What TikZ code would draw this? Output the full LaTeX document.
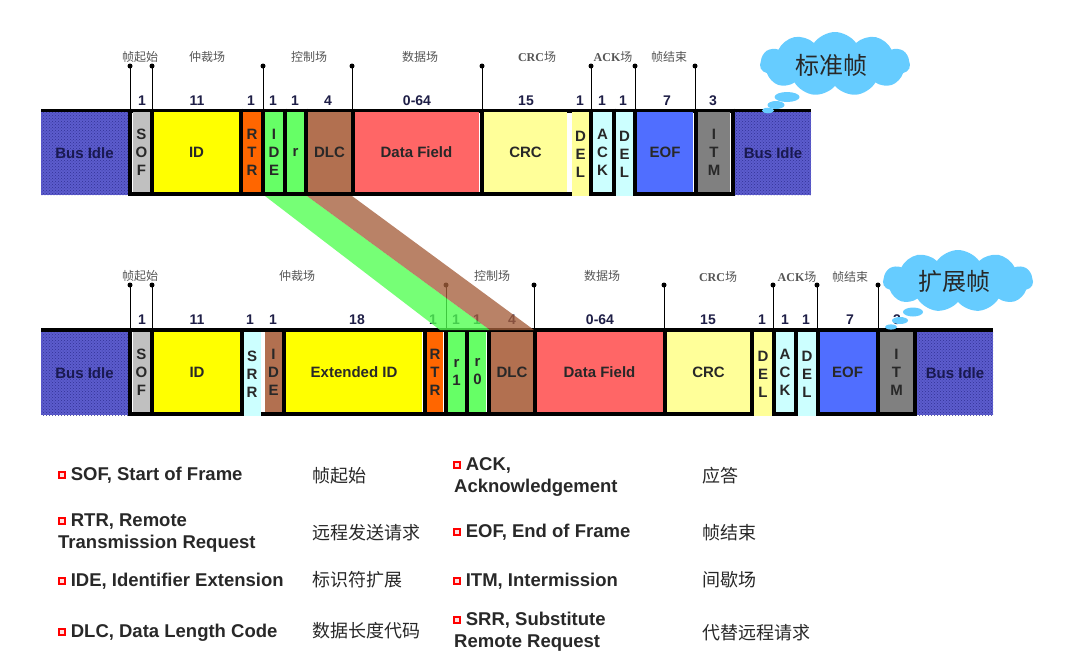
\documentclass[tikz,border=0pt]{standalone}
\usepackage{fontspec}
\setmainfont{Liberation Sans}
\newfontfamily\cjk{Noto Sans CJK SC}
\newfontfamily\serifb{Liberation Serif}
\usetikzlibrary{shapes.symbols,patterns}
\definecolor{idlec}{RGB}{92,92,205}
\definecolor{idledot}{RGB}{50,50,150}
\definecolor{sofc}{RGB}{192,192,192}
\definecolor{idc}{RGB}{255,255,0}
\definecolor{rtrc}{RGB}{255,102,0}
\definecolor{grnc}{RGB}{102,255,102}
\definecolor{dlcc}{RGB}{178,112,80}
\definecolor{bandg}{RGB}{80,255,80}
\definecolor{bandb}{RGB}{165,95,60}
\definecolor{datac}{RGB}{255,102,102}
\definecolor{crcc}{RGB}{255,255,153}
\definecolor{cyanc}{RGB}{204,255,255}
\definecolor{eofc}{RGB}{80,110,255}
\definecolor{itmc}{RGB}{128,128,128}
\definecolor{cloudc}{RGB}{102,204,255}
\definecolor{numc}{RGB}{30,30,70}
\definecolor{txtc}{RGB}{40,40,40}
\definecolor{lblc}{RGB}{85,85,85}
\definecolor{idletxt}{RGB}{25,25,80}
\definecolor{bulfill}{RGB}{255,225,225}
\setlength\fboxsep{0pt}
\setlength\fboxrule{1.5pt}
\newcommand\bul{\raisebox{2.6pt}{\fcolorbox{red}{bulfill}{\rule{0pt}{4.5pt}\rule{4.5pt}{0pt}}}}
% name, x1, x2, ytop, ybot, colour, text
\newcommand\cfield[7]{\node[fld, fill=#6, minimum width={#3-#2}, minimum height={#5-#4}] (#1) at ({(#2+#3)/2},{(#4+#5)/2}) {#7};}
\begin{document}
\begin{tikzpicture}[x=1pt,y=-1pt,
  fld/.style={rectangle, inner sep=0pt, font=\bfseries\fontsize{15}{18}\selectfont, text=txtc, align=center},
  idle/.style={fill=idlec, postaction={pattern=crosshatch dots, pattern color=idledot}, text=idletxt},
  sepline/.style={line width=4pt, black},
  tickline/.style={line width=1pt, black},
  tdot/.style={circle, fill=black, inner sep=0pt, minimum size=5pt},
  num/.style={font=\bfseries\fontsize{14}{14}\selectfont, text=numc, inner sep=0pt},
  flab/.style={font=\cjk\fontsize{12}{12}\selectfont, text=lblc, inner sep=0pt},
  leg/.style={font=\bfseries\fontsize{18.5}{22}\selectfont, text=txtc, anchor=base west, inner sep=0pt},
  legcn/.style={font=\cjk\fontsize{18}{18}\selectfont, text=txtc, anchor=base west, inner sep=0pt},
  cloudshape/.style={cloud, cloud puffs=11, cloud puff arc=110, aspect=2.3, fill=cloudc, draw=none, inner sep=0pt},
  cloudtxt/.style={font=\cjk\fontsize{24}{24}\selectfont, text=txtc, inner sep=0pt},
  band/.style={opacity=0.78}
]
\useasboundingbox (0,0) rectangle (1065,654);

% ================= TOP FRAME (standard) =================
\draw[sepline] (41,110.5) -- (811,110.5);
\draw[sepline] (128,194) -- (735,194);
\node[fld, idle, minimum width=87pt, minimum height=83pt] (tidleL) at (84.5,153.5) {Bus Idle};
\cfield{tsof}{133}{150}{112}{192}{sofc}{S\\O\\F}
\cfield{tid}{154}{239}{112}{192}{idc}{ID}
\cfield{trtr}{243}{261}{112}{192}{rtrc}{R\\T\\R}
\cfield{tide}{265}{283}{112}{192}{grnc}{I\\D\\E}
\cfield{tr}{287}{304}{112}{192}{grnc}{r}
\cfield{tdlc}{308}{351}{112}{192}{dlcc}{DLC}
\cfield{tdata}{354}{479}{112}{192}{datac}{Data Field}
\cfield{tcrc}{484}{567}{112}{192}{crcc}{CRC}
\cfield{tdel}{572}{589}{112}{196}{crcc}{D\\E\\L}
\cfield{tack}{593}{612}{112}{192}{cyanc}{A\\C\\K}
\cfield{tdelb}{616}{633}{112}{196}{cyanc}{D\\E\\L}
\cfield{teof}{637}{693}{112}{192}{eofc}{EOF}
\cfield{titm}{698}{730}{112}{192}{itmc}{I\\T\\M}
\node[fld, idle, minimum width=76pt, minimum height=83pt] (tidleR) at (773,153.5) {Bus Idle};
\foreach \x in {130,152,241,263,285,306,352.5,481.5,591,614,635,695.5,732.5}
  \draw[sepline] (\x,108.5) -- (\x,196);

% ticks top
\foreach \x [count=\i] in {130,152,263,352,482,591,635,695} {
  \node[tdot] (td\i) at (\x,66) {};
  \draw[tickline] (td\i.center) -- ++(0,44);
}
% bit counts top
\foreach \x/\t [count=\i] in {142/1,197/11,251/1,273/1,295/1,328/4,417/0-64,526/15,580/1,602/1,623/1,667/7,713/3}
  \node[num] (tn\i) at (\x,101) {\t};
% field names top
\node[flab] (tl1) at (140,57) {帧起始};
\node[flab] (tl2) at (207,57) {仲裁场};
\node[flab] (tl3) at (309,57) {控制场};
\node[flab] (tl4) at (420,57) {数据场};
\node[flab] (tl5) at (537,57) {{\serifb\bfseries CRC}场};
\node[flab] (tl6) at (613,57) {{\serifb\bfseries ACK}场};
\node[flab] (tl7) at (669,57) {帧结束};

% ================= BOTTOM FRAME (extended) =================
\draw[sepline] (41,330) -- (993,330);
\draw[sepline] (128,414) -- (917,414);
\node[fld, idle, minimum width=87pt, minimum height=83pt] (bidleL) at (84.5,373.5) {Bus Idle};
\cfield{bsof}{133}{150}{332}{412}{sofc}{S\\O\\F}
\cfield{bid}{154}{240}{332}{412}{idc}{ID}
\cfield{bsrr}{243}{261}{332}{416}{cyanc}{S\\R\\R}
\cfield{bide}{265}{282}{332}{412}{dlcc}{I\\D\\E}
\cfield{bext}{286}{422}{332}{412}{idc}{Extended ID}
\cfield{brtr}{427}{443}{332}{412}{rtrc}{R\\T\\R}
\cfield{br1}{448}{465}{332}{412}{grnc}{r\\1}
\cfield{br0}{469}{486}{332}{412}{grnc}{r\\0}
\cfield{bdlc}{491}{533}{332}{412}{dlcc}{DLC}
\cfield{bdata}{536}{663}{332}{412}{datac}{Data Field}
\cfield{bcrc}{667}{750}{332}{412}{crcc}{CRC}
\cfield{bdel}{754}{772}{332}{416}{crcc}{D\\E\\L}
\cfield{back}{776}{794}{332}{412}{cyanc}{A\\C\\K}
\cfield{bdelb}{798}{816}{332}{416}{cyanc}{D\\E\\L}
\cfield{beof}{819}{876}{332}{412}{eofc}{EOF}
\cfield{bitm}{880}{913}{332}{412}{itmc}{I\\T\\M}
\node[fld, idle, minimum width=76pt, minimum height=83pt] (bidleR) at (955,373.5) {Bus Idle};
\foreach \x in {130,152,241.5,284,424.5,445.5,467,488.5,534.5,665,752,774,796,817.5,878,915}
  \draw[sepline] (\x,328) -- (\x,416);

% ticks bottom
\foreach \x [count=\i] in {130,152,446,534,664,773,817,878} {
  \node[tdot] (bd\i) at (\x,285) {};
  \draw[tickline] (bd\i.center) -- ++(0,45);
}
% bit counts bottom
\foreach \x/\t [count=\i] in {142/1,197/11,250/1,273/1,357/18,433/1,456/1,477/1,512/4,600/0-64,708/15,762/1,785/1,806/1,850/7,897/3}
  \node[num] (bn\i) at (\x,320) {\t};
% field names bottom
\node[flab] (bl1) at (140,276) {帧起始};
\node[flab] (bl2) at (297,276) {仲裁场};
\node[flab] (bl3) at (492,276) {控制场};
\node[flab] (bl4) at (602,276) {数据场};
\node[flab] (bl5) at (718,277) {{\serifb\bfseries CRC}场};
\node[flab] (bl6) at (797,277) {{\serifb\bfseries ACK}场};
\node[flab] (bl7) at (850,277) {帧结束};

% ================= mapping bands =================
\fill[band, bandg] (265,196) -- (307,196) -- (490,330) -- (440,330) -- cycle;
\fill[band, bandb] (307,196) -- (352,196) -- (534,330) -- (490,330) -- cycle;

% ================= clouds =================
\node[cloudshape, minimum width=150pt, minimum height=64pt] (c1) at (835,64) {};
\node[cloudtxt] (c1t) at (831,65) {标准帧};
\fill[cloudc] (787,97) ellipse [x radius=12.5pt, y radius=5pt];
\fill[cloudc] (776,105) ellipse [x radius=8.5pt, y radius=4pt];
\fill[cloudc] (768,110.5) ellipse [x radius=6pt, y radius=2.8pt];

\node[cloudshape, minimum width=150pt, minimum height=62pt] (c2) at (958,281) {};
\node[cloudtxt] (c2t) at (954,281) {扩展帧};
\fill[cloudc] (913,312) ellipse [x radius=10pt, y radius=4.5pt];
\fill[cloudc] (900,320.5) ellipse [x radius=8pt, y radius=3.5pt];
\fill[cloudc] (891,327) ellipse [x radius=6pt, y radius=2.6pt];

% ================= legend =================
\node[leg] (g1) at (58,480) {\bul\ SOF, Start of Frame};
\node[leg] (g2a) at (58,526) {\bul\ RTR, Remote};
\node[leg] (g2b) at (58,548) {Transmission Request};
\node[leg] (g3) at (58,586) {\bul\ IDE, Identifier Extension};
\node[leg] (g4) at (58,637) {\bul\ DLC, Data Length Code};
\node[legcn] (h1) at (312,482) {帧起始};
\node[legcn] (h2) at (312,539) {远程发送请求};
\node[legcn] (h3) at (312,586) {标识符扩展};
\node[legcn] (h4) at (312,637) {数据长度代码};

\node[leg] (g5a) at (453,470) {\bul\ ACK,};
\node[leg] (g5b) at (454,492) {Acknowledgement};
\node[leg] (g6) at (453,537) {\bul\ EOF, End of Frame};
\node[leg] (g7) at (453,586) {\bul\ ITM, Intermission};
\node[leg] (g8a) at (453,625) {\bul\ SRR, Substitute};
\node[leg] (g8b) at (454,647) {Remote Request};
\node[legcn] (k1) at (702,482) {应答};
\node[legcn] (k2) at (702,539) {帧结束};
\node[legcn] (k3) at (702,586) {间歇场};
\node[legcn] (k4) at (702,639) {代替远程请求};
\end{tikzpicture}
\end{document}
